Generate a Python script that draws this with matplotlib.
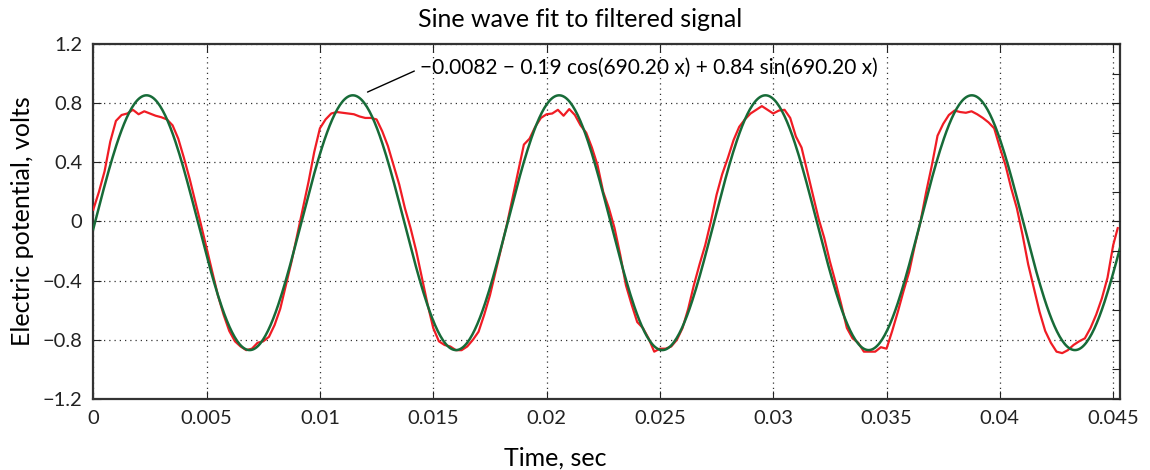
import numpy as np
import matplotlib
matplotlib.use("Agg")
import matplotlib.pyplot as plt
from matplotlib.ticker import FixedLocator, FixedFormatter, NullFormatter

# ---- data ----
sample_step = 0.00025  # seconds between samples of the filtered signal
signal_volts = [
    0.08, 0.20, 0.34, 0.54, 0.68, 0.72, 0.73, 0.755, 0.725, 0.745,
    0.73, 0.715, 0.705, 0.69, 0.65, 0.56, 0.43, 0.29, 0.135, -0.02,
    -0.18, -0.34, -0.50, -0.63, -0.74, -0.81, -0.845, -0.87, -0.86, -0.82,
    -0.81, -0.78, -0.70, -0.59, -0.43, -0.27, -0.09, 0.09, 0.27, 0.47,
    0.63, 0.69, 0.73, 0.74, 0.735, 0.73, 0.725, 0.71, 0.70, 0.70,
    0.69, 0.61, 0.51, 0.38, 0.25, 0.09, -0.045, -0.20, -0.38, -0.56,
    -0.72, -0.81, -0.835, -0.845, -0.87, -0.87, -0.845, -0.80, -0.745, -0.63,
    -0.50, -0.34, -0.18, -0.02, 0.16, 0.34, 0.52, 0.56, 0.64, 0.70,
    0.725, 0.73, 0.755, 0.715, 0.76, 0.72, 0.65, 0.60, 0.50, 0.38,
    0.20, 0.09, -0.045, -0.225, -0.43, -0.56, -0.68, -0.72, -0.79, -0.88,
    -0.86, -0.86, -0.845, -0.80, -0.72, -0.59, -0.43, -0.29, -0.16, 0.0,
    0.18, 0.32, 0.43, 0.55, 0.64, 0.69, 0.73, 0.755, 0.78, 0.755,
    0.73, 0.75, 0.755, 0.70, 0.575, 0.50, 0.34, 0.18, 0.02, -0.11,
    -0.27, -0.41, -0.56, -0.72, -0.79, -0.82, -0.88, -0.88, -0.88, -0.85,
    -0.86, -0.74, -0.61, -0.47, -0.34, -0.16, 0.0, 0.20, 0.38, 0.58,
    0.66, 0.72, 0.75, 0.74, 0.735, 0.745, 0.725, 0.70, 0.67, 0.63,
    0.50, 0.38, 0.225, 0.09, -0.09, -0.29, -0.45, -0.61, -0.74, -0.82,
    -0.88, -0.89, -0.87, -0.835, -0.81, -0.79, -0.72, -0.63, -0.52, -0.38,
    -0.16, -0.045,
]
last_sample_time = 0.0452

# Fit coefficients as printed on the chart
fit_offset = -0.0082
fit_cos = -0.19
fit_sin = 0.84
fit_omega = 690.20
fit_time_shift = 0.00025  # fitted curve is drawn one sample ahead

x_tick_values = [0, 0.005, 0.01, 0.015, 0.02, 0.025, 0.03, 0.035, 0.04, 0.045]
x_tick_labels = ["0", "0.005", "0.01", "0.015", "0.02", "0.025", "0.03", "0.035", "0.04", "0.045"]
y_tick_values = [-1.2, -0.8, -0.4, 0, 0.4, 0.8, 1.2]
y_tick_labels = ["\u22121.2", "\u22120.8", "\u22120.4", "0", "0.4", "0.8", "1.2"]
right_tick_values = [-1.2, -1.0, -0.8, -0.6, -0.4, -0.2, 0, 0.2, 0.4, 0.6, 0.8, 1.0, 1.2]

title_text = "Sine wave fit to filtered signal"
x_label = "Time, sec"
y_label = "Electric potential, volts"
fit_label = "\u22120.0082 \u2212 0.19 cos(690.20 x) + 0.84 sin(690.20 x)"

# ---- figure ----
plt.rcParams['font.family'] = ['Lato', 'DejaVu Sans']

fig = plt.figure(figsize=(11.5, 4.7), dpi=100)
ax = fig.add_axes([0.0811, 0.1511, 0.8928, 0.7553])

t = np.arange(len(signal_volts)) * sample_step
t[-1] = last_sample_time
signal = np.array(signal_volts)

tf = np.linspace(0, 0.0453, 800)
fit = fit_offset + fit_cos * np.cos(fit_omega * (tf + fit_time_shift)) + \
    fit_sin * np.sin(fit_omega * (tf + fit_time_shift))

ax.plot(t, signal, color="#f01c24", lw=1.6, zorder=3)
ax.plot(tf, fit, color="#176b38", lw=1.8, zorder=4)

ax.set_xlim(0, 0.0453)
ax.set_ylim(-1.2, 1.2)

ax.xaxis.set_major_locator(FixedLocator(x_tick_values))
ax.xaxis.set_major_formatter(FixedFormatter(x_tick_labels))
ax.yaxis.set_major_locator(FixedLocator(y_tick_values))
ax.yaxis.set_major_formatter(FixedFormatter(y_tick_labels))

ax.tick_params(direction="in", length=6, width=0.8, top=True, right=False,
               labelsize=14.5, colors="#222222", pad=8)
for s in ax.spines.values():
    s.set_linewidth(1.6)
    s.set_color("#333333")

ax.grid(True, linestyle=(0, (1, 3.2)), color="#333333", lw=0.9)

# right-hand axis ticks (every 0.2, no labels)
axr = ax.twinx()
axr.set_ylim(ax.get_ylim())
axr.yaxis.set_major_locator(FixedLocator(right_tick_values))
axr.yaxis.set_major_formatter(NullFormatter())
axr.tick_params(direction="in", length=6, width=0.8, colors="#222222")
for s in axr.spines.values():
    s.set_visible(False)

ax.set_title(title_text, fontsize=18, pad=12, x=0.474)
ax.set_xlabel(x_label, fontsize=18, labelpad=10)
ax.xaxis.set_label_coords(0.45, -0.135)
ax.set_ylabel(y_label, fontsize=18, labelpad=6)

ax.annotate(fit_label, xy=(0.0121, 0.875), xytext=(0.0144, 1.04),
            ha="left", va="center", fontsize=15,
            arrowprops=dict(arrowstyle="-", color="black", lw=1.0,
                            shrinkA=2, shrinkB=0, relpos=(0, 0.45)),
            zorder=5)

fig.savefig("out.png", dpi=100)
